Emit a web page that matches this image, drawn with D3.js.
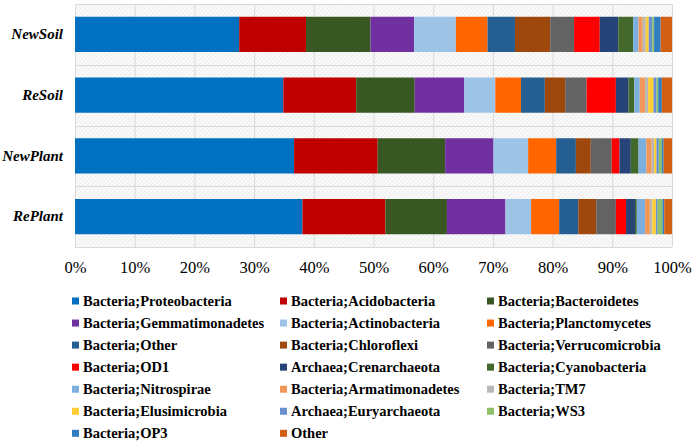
<!DOCTYPE html>
<html><head><meta charset="utf-8">
<script src="https://cdn.jsdelivr.net/npm/d3@7"></script>
<style>html,body{margin:0;padding:0;background:#fff;}svg{display:block;}</style>
</head><body>
<svg id="chart" width="695" height="444"></svg>
<script>
const samples = ["NewSoil", "ReSoil", "NewPlant", "RePlant"];
const taxa = ["Bacteria;Proteobacteria","Bacteria;Acidobacteria","Bacteria;Bacteroidetes",
  "Bacteria;Gemmatimonadetes","Bacteria;Actinobacteria","Bacteria;Planctomycetes",
  "Bacteria;Other","Bacteria;Chloroflexi","Bacteria;Verrucomicrobia",
  "Bacteria;OD1","Archaea;Crenarchaeota","Bacteria;Cyanobacteria",
  "Bacteria;Nitrospirae","Bacteria;Armatimonadetes","Bacteria;TM7",
  "Bacteria;Elusimicrobia","Archaea;Euryarchaeota","Bacteria;WS3",
  "Bacteria;OP3","Other"];
const colors = ["#0070C0","#C00000","#385723","#7030A0","#9DC3E6","#FF6600",
  "#255E91","#9E480E","#636363","#FF0000","#264478","#43682B",
  "#7CAFDD","#F1975A","#B7B7B7","#FFCD33","#698ED0","#8CC168",
  "#327DC2","#D26012"];
const newSoil  = [27.5,11.2,10.8,7.3,7.0,5.3,4.6,5.9,4.0,4.3,3.1,2.5,0.9,0.7,0.5,0.5,0.6,0.3,1.1,1.9];
const reSoil   = [34.9,12.2,9.8,8.3,5.2,4.3,4.0,3.4,3.6,4.9,2.1,1.0,0.9,0.9,0.5,0.9,0.5,0.3,0.6,1.7];
const newPlant = [36.7,14.0,11.3,8.1,5.8,4.7,3.3,2.5,3.5,1.3,1.9,1.3,1.3,0.9,0.4,0.4,0.4,0.5,0.3,1.4];
const rePlant  = [38.1,13.9,10.3,9.8,4.3,4.7,3.2,3.0,3.3,1.7,1.5,0.3,1.4,0.8,0.4,0.6,0.3,0.8,0.3,1.3];
const tickValues = [0,10,20,30,40,50,60,70,80,90,100];

const seriesBySample = [newSoil, reSoil, newPlant, rePlant];
const rows = samples.map((s,i) => {
  const o = {sample: s};
  taxa.forEach((t,j) => o[t] = seriesBySample[i][j]);
  return o;
});

const svg = d3.select("#chart");
const m = {left:75, right:23, top:4, bottom:197};
const W = 695, H = 444;
const serif = "'Liberation Serif', 'Times New Roman', Times, serif";
const x = d3.scaleLinear().domain([0,100]).range([m.left, W - m.right]);
const y = d3.scaleBand().domain(samples).range([m.top, H - m.bottom]).paddingInner(0.42).paddingOuter(0.21);
const yb = d3.scaleBand().domain(samples).range([m.top, H - m.bottom]);
const color = d3.scaleOrdinal().domain(taxa).range(colors);

// hatch pattern
const defs = svg.append("defs");
const pat = defs.append("pattern").attr("id","hatch").attr("patternUnits","userSpaceOnUse")
  .attr("width",3).attr("height",3).attr("patternTransform","rotate(45)");
pat.append("rect").attr("width",3).attr("height",3).attr("fill","#fbfbfb");
pat.append("line").attr("x1",0).attr("y1",0).attr("x2",0).attr("y2",3)
  .attr("stroke","#dcdcdc").attr("stroke-width",1);

svg.append("rect").attr("x",x(0)).attr("y",m.top).attr("width",x(100)-x(0))
  .attr("height",H-m.bottom-m.top).attr("fill","url(#hatch)");

// vertical grid
svg.append("g").selectAll("line").data(tickValues).join("line")
  .attr("x1",d=>x(d)+0.5).attr("x2",d=>x(d)+0.5)
  .attr("y1",m.top).attr("y2",H-m.bottom)
  .attr("stroke","#d9d9d9").attr("stroke-width",1);
// horizontal band lines
const hb = samples.map(s=>yb(s)).concat([H-m.bottom]);
svg.append("g").selectAll("line").data(hb).join("line")
  .attr("x1",x(0)).attr("x2",x(100))
  .attr("y1",d=>Math.round(d)+0.5).attr("y2",d=>Math.round(d)+0.5)
  .attr("stroke","#d9d9d9").attr("stroke-width",1);

const stack = d3.stack().keys(taxa);
const stacked = stack(rows);
svg.append("g").selectAll("g").data(stacked).join("g")
  .attr("fill",d=>color(d.key))
  .selectAll("rect").data(d=>d).join("rect")
  .attr("x",d=>x(d[0])).attr("width",d=>x(d[1])-x(d[0]))
  .attr("y",d=>y(d.data.sample)).attr("height",y.bandwidth());

// x axis
const xAxis = d3.axisBottom(x).tickValues(tickValues).tickFormat(d=>d+"%").tickSize(0).tickPadding(14);
const gx = svg.append("g").attr("transform",`translate(0,${H-m.bottom})`).call(xAxis);
gx.select(".domain").remove();
gx.selectAll("text").attr("font-family",serif)
  .attr("font-size",16.5).attr("fill","#000");

// y axis
const yAxis = d3.axisLeft(y).tickSize(0).tickPadding(12);
const gy = svg.append("g").attr("transform",`translate(${m.left},0)`).call(yAxis);
gy.select(".domain").remove();
gy.selectAll("text").attr("font-family",serif)
  .attr("font-size",15).attr("font-weight","bold").attr("font-style","italic").attr("fill","#000");

// legend
const colX = [72, 280, 487];
const leg = svg.append("g").selectAll("g").data(taxa).join("g")
  .attr("transform",(d,i)=>`translate(${colX[i%3]},${301 + Math.floor(i/3)*22.05})`);
leg.append("rect").attr("x",0).attr("y",-3.5).attr("width",7).attr("height",7).attr("fill",d=>color(d));
leg.append("text").attr("x",11).attr("y",0).attr("dy","0.35em")
  .attr("font-family",serif)
  .attr("font-size",14.5).attr("font-weight","bold").attr("fill","#000").text(d=>d);
</script>
</body></html>
